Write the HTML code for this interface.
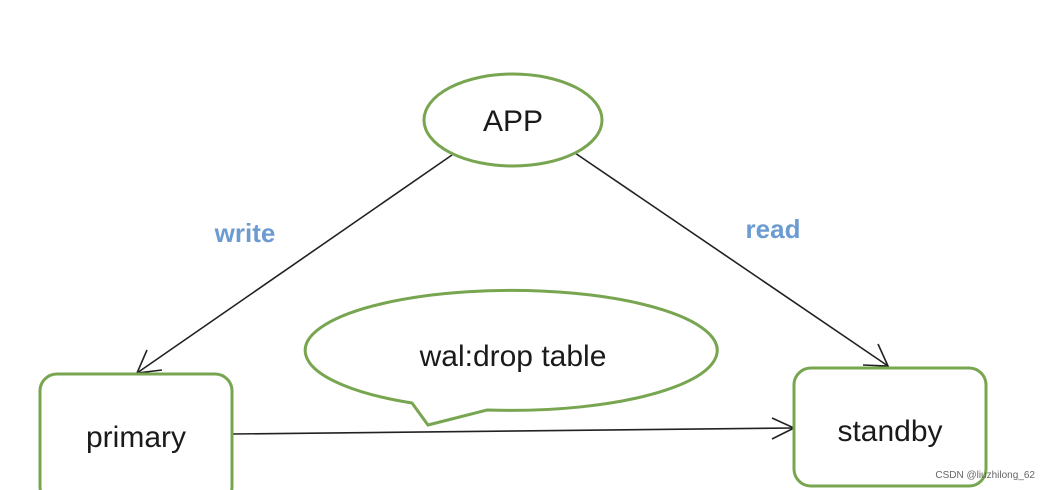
<!DOCTYPE html>
<html><head><meta charset="utf-8"><style>
html,body{margin:0;padding:0;background:#fff;}
svg{display:block;}
text{font-family:"Liberation Sans",sans-serif;}
</style></head><body>
<svg width="1050" height="490" viewBox="0 0 1050 490" xmlns="http://www.w3.org/2000/svg">
<rect width="1050" height="490" fill="#fff"/>
<g stroke="#222" stroke-width="1.6" fill="none">
<line x1="452" y1="155" x2="137" y2="373"/>
<polyline points="147,350 137,373 162,370"/>
<line x1="575" y1="153" x2="888" y2="366"/>
<polyline points="863,365 888,366 878,344"/>
<line x1="232" y1="434" x2="794" y2="428"/>
<polyline points="772,418 794,428 772,439"/>
</g>
<g stroke="#78a550" stroke-width="3" fill="#fff">
<ellipse cx="513" cy="120" rx="89" ry="46"/>
<rect x="40" y="374" width="192" height="130" rx="17"/>
<rect x="794" y="368" width="192" height="118" rx="17"/>
<path d="M412,403 A206,60 0 1 1 487,410 L428,425 Z"/>
</g>
<g fill="#1a1a1a" font-size="30" text-anchor="middle">
<text x="513" y="131">APP</text>
<text x="513" y="366">wal:drop table</text>
<text x="136" y="447">primary</text>
<text x="890" y="441">standby</text>
</g>
<g fill="#6b9bd0" font-size="26" font-weight="bold" text-anchor="middle">
<text x="245" y="242">write</text>
<text x="773" y="238">read</text>
</g>
<text x="1035" y="478" font-size="10" fill="#666" text-anchor="end">CSDN @liuzhilong_62</text>
</svg>
</body></html>
